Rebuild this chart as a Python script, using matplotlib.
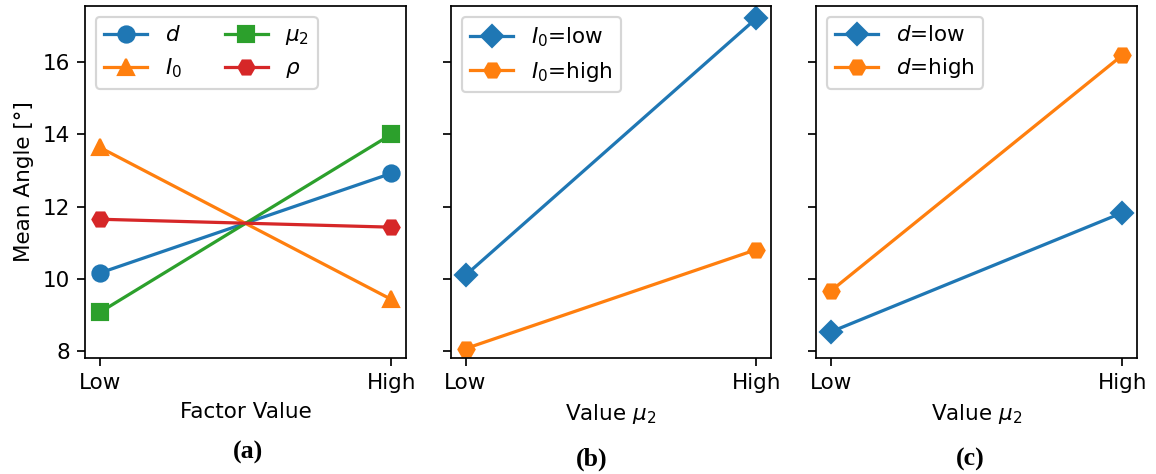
import matplotlib.pyplot as plt

levels = ["Low", "High"]

# panel (a): main effects of each factor
d_means = [10.16, 12.92]
i0_means = [13.64, 9.43]
mu2_means = [9.07, 14.0]
rho_means = [11.65, 11.43]

# panel (b): interaction I0 x mu2
i0_low = [10.1, 17.21]
i0_high = [8.07, 10.81]

# panel (c): interaction d x mu2
d_low = [8.53, 11.83]
d_high = [9.66, 16.19]

DPI = 155
fig = plt.figure(figsize=(1156 / DPI, 474 / DPI), dpi=DPI)

W, H = 1156, 474
def pos(left, right, top=6, bottom=358):
    return [left / W, 1 - bottom / H, (right - left) / W, (bottom - top) / H]

ax_a = fig.add_axes(pos(85, 406))
ax_b = fig.add_axes(pos(451, 771), sharey=ax_a)
ax_c = fig.add_axes(pos(816, 1137), sharey=ax_a)

x = [0, 1]
ms = 7.5

# === (a) ===
ax_a.plot(x, d_means, marker="o", ms=ms, label="$d$")
ax_a.plot(x, i0_means, marker="^", ms=ms, label="$I_0$")
ax_a.plot(x, mu2_means, marker="s", ms=ms, label="$\\mu_2$")
ax_a.plot(x, rho_means, marker="H", ms=ms, label="$\\rho$")
ax_a.set_xlabel("Factor Value")
ax_a.set_ylabel("Mean Angle [°]")
ax_a.legend(ncol=2, loc="upper left")

# === (b) ===
ax_b.plot(x, i0_low, marker="D", ms=ms, label="$I_0$=low")
ax_b.plot(x, i0_high, marker="H", ms=ms, label="$I_0$=high")
ax_b.set_xlabel("Value $\\mu_2$")
ax_b.legend(loc="upper left")

# === (c) ===
ax_c.plot(x, d_low, marker="D", ms=ms, label="$d$=low")
ax_c.plot(x, d_high, marker="H", ms=ms, label="$d$=high")
ax_c.set_xlabel("Value $\\mu_2$")
ax_c.legend(loc="upper left")

for ax in (ax_a, ax_b, ax_c):
    ax.set_xticks(x)
    ax.set_xticklabels(levels)
    ax.set_xlim(-0.05, 1.05)
ax_a.set_ylim(7.81, 17.55)
ax_a.set_yticks([8, 10, 12, 14, 16])
ax_b.tick_params(labelleft=False)
ax_c.tick_params(labelleft=False)

# subfigure captions
cap = dict(ha="center", va="center", fontsize=12, fontweight="bold",
           family=["Liberation Serif", "DejaVu Serif"])
fig.text(248 / W, 1 - 452 / H, "(a)", **cap)
fig.text(592 / W, 1 - 459 / H, "(b)", **cap)
fig.text(970 / W, 1 - 459 / H, "(c)", **cap)

fig.savefig("out.png", dpi=DPI)
